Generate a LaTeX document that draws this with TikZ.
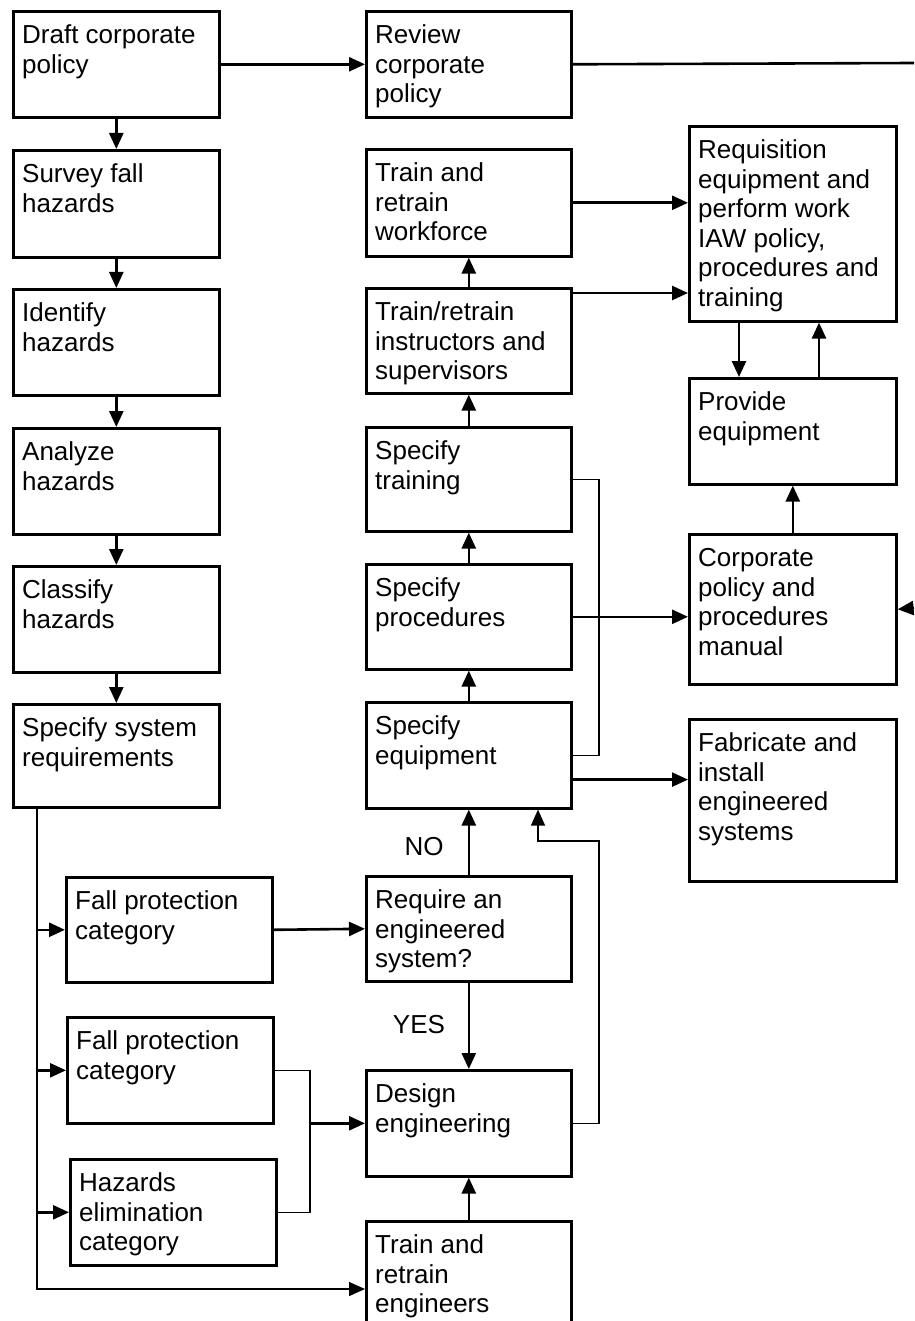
\documentclass[tikz,border=0pt]{standalone}
\usepackage{fontspec}
\setmainfont{Liberation Sans}
\usetikzlibrary{arrows.meta}
\tikzset{
  boxsty/.style={draw=black, line width=2.6pt, fill=none, inner sep=0pt, rectangle},
  txtsty/.style={inner sep=0pt, align=left, font=\fontsize{26}{29.6}\selectfont},
  thickline/.style={line width=2.6pt},
  thinline/.style={line width=1.5pt},
  arr/.style={line width=2.6pt, -{Triangle[length=16pt,width=14pt]}},
  thinarr/.style={line width=1.5pt, -{Triangle[length=16pt,width=14pt]}},
  lbl/.style={inner sep=0pt, font=\fontsize{26}{29.6}\selectfont}
}
% name, x, ytop, w, h, text
\newcommand{\mybox}[6]{%
  \node[boxsty, anchor=north west, minimum width=#4pt, minimum height=#5pt] (#1) at (#2,#3) {};
  \node[txtsty, anchor=north west] (#1-t) at ([xshift=10pt,yshift=-12.5pt]#1.north west) {\strut #6};
}
\begin{document}
\begin{tikzpicture}[x=1pt,y=-1pt]
\useasboundingbox (0,0) rectangle (914,1321);
\clip (0,0) rectangle (914,1321);
\fill[white] (0,0) rectangle (914,1321);
% left column
\mybox{draft}{12}{10}{206}{106}{Draft corporate\\policy}
\mybox{survey}{12}{149}{206}{107}{Survey fall\\hazards}
\mybox{identify}{12}{288}{206}{106}{Identify\\hazards}
\mybox{analyze}{12}{427}{206}{106}{Analyze\\hazards}
\mybox{classify}{12}{565}{206}{106}{Classify\\hazards}
\mybox{sysreq}{12}{703}{206}{103}{Specify system\\requirements}
% middle column
\mybox{review}{365}{10}{205}{106}{Review\\corporate\\policy}
\mybox{workforce}{365}{148}{205}{107}{Train and\\retrain\\workforce}
\mybox{instructors}{365}{287}{205}{105}{Train/retrain\\instructors and\\supervisors}
\mybox{training}{365}{426}{205}{104}{Specify\\training}
\mybox{procedures}{365}{563}{205}{105}{Specify\\procedures}
\mybox{equipment}{365}{701}{205}{106}{Specify\\equipment}
\mybox{require}{365}{875}{205}{105}{Require an\\engineered\\system?}
\mybox{design}{365}{1069}{205}{106}{Design\\engineering}
\mybox{engineers}{365}{1220}{205}{130}{Train and\\retrain\\engineers}
% right column
\mybox{requisition}{688}{125}{207}{195}{Requisition\\equipment and\\perform work\\IAW policy,\\procedures and\\training}
\mybox{provide}{688}{377}{207}{106}{Provide\\equipment}
\mybox{manual}{688}{533}{207}{150}{Corporate\\policy and\\procedures\\manual}
\mybox{fabricate}{688}{718}{207}{162}{Fabricate and\\install\\engineered\\systems}
% category boxes
\mybox{fallone}{65}{876}{206}{105}{Fall protection\\category}
\mybox{falltwo}{66}{1016}{206}{106}{Fall protection\\category}
\mybox{hazelim}{69}{1158}{206}{106}{Hazards\\elimination\\category}
% labels
\node[lbl] (no) at (424,847) {NO};
\node[lbl] (yes) at (419,1025) {YES};
% helper coordinates
\coordinate (rout) at (914,63);
\coordinate (rin) at (914,608);
\coordinate (bus) at (37,0);
\coordinate (jx) at (310,0);
\coordinate (sx) at (599,0);
\coordinate (lk) at (0,841);
% left chain
\draw[arr] (draft.east) -- (review.west);
\draw[thickline] (review.east) -- (rout);
\draw[arr] (draft.south) -- (survey.north);
\draw[arr] (survey.south) -- (identify.north);
\draw[arr] (identify.south) -- (analyze.north);
\draw[arr] (analyze.south) -- (classify.north);
\draw[arr] (classify.south) -- (sysreq.north);
% middle chain
\draw[arr] (equipment.north) -- (procedures.south);
\draw[arr] (procedures.north) -- (training.south);
\draw[arr] (training.north) -- (instructors.south);
\draw[arr] (instructors.north) -- (workforce.south);
\draw[arr] (require.north) -- (equipment.south);
\draw[arr] (require.south) -- (design.north);
\draw[arr] (engineers.north) -- (design.south);
% to right column
\draw[arr] (workforce.east) -- (workforce.east -| requisition.west);
\draw[arr] ([yshift=-6pt]instructors.north east) -- ([yshift=-6pt]instructors.north east -| requisition.west);
\draw[arr] ([xshift=51pt]requisition.south west) -- ([xshift=51pt]provide.north west);
\draw[arr] ([xshift=131pt]provide.north west) -- ([xshift=131pt]requisition.south west);
\draw[arr] (manual.north) -- (provide.south);
\draw[arr] (procedures.east) -- (procedures.east -| manual.west);
\draw[arr] (rin) -- (manual.east);
\draw[arr] ([yshift=30pt]equipment.south east) -- ([yshift=30pt]equipment.south east -| fabricate.west);
% thin links
\draw[thinline] (training.east) -| (sx |- equipment.east) -- (equipment.east);
\draw[thinarr] (design.east) -| (sx |- lk) -| ([xshift=173pt]equipment.south west);
% categories
\draw[arr] (fallone.east) -- (require.west);
\draw[thinline] (falltwo.east) -| (jx |- hazelim.east) -- (hazelim.east);
\draw[arr] (jx |- design.west) -- (design.west);
% bus
\draw[thinarr] (sysreq.south -| bus) |- ([yshift=-69pt]engineers.north west);
\draw[arr] (bus |- fallone.west) -- (fallone.west);
\draw[arr] (bus |- falltwo.west) -- (falltwo.west);
\draw[arr] (bus |- hazelim.west) -- (hazelim.west);
\end{tikzpicture}
\end{document}
